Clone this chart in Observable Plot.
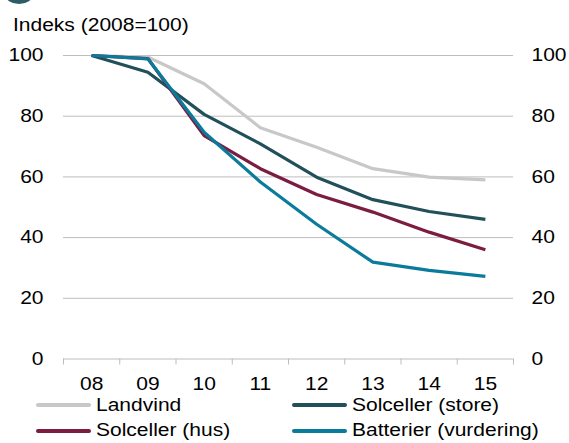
<!DOCTYPE html>
<html>
<head>
<meta charset="utf-8">
<script src="https://cdn.jsdelivr.net/npm/d3@7"></script>
<script src="https://cdn.jsdelivr.net/npm/@observablehq/plot@0.6"></script>
<style>
  body { margin: 0; background: #fff; }
  #wrap { position: relative; width: 569px; height: 443px; overflow: hidden; font-family: "Liberation Sans", Arial, sans-serif; color: #000; }
  #chart { position: absolute; left: 0; top: 0; }
  .title { position: absolute; left: 13px; top: 15px; font-size: 17.5px; line-height: 20px; white-space: nowrap; transform: scaleX(1.2); transform-origin: 0 0; }
  .leg { position: absolute; font-size: 17.5px; line-height: 20px; white-space: nowrap; transform: scaleX(1.2); transform-origin: 0 0; }
  .sw { position: absolute; height: 4px; border-radius: 2px; }
  .logo { position: absolute; left: 5px; top: -15px; width: 28px; height: 19px; border-radius: 50%; background: #2d5c66; }
</style>
</head>
<body>
<div id="wrap">
  <div class="logo"></div>
  <div id="chart"></div>
  <div class="title">Indeks (2008=100)</div>
</div>
<script>
const years = [2008, 2009, 2010, 2011, 2012, 2013, 2014, 2015];
const yearLabels = ["08", "09", "10", "11", "12", "13", "14", "15"];
const seriesNames = ["Landvind", "Solceller (store)", "Solceller (hus)", "Batterier (vurdering)"];
const seriesColors = ["#c8c8c8", "#22505a", "#7b1c41", "#0a7b9b"];
const landvind = [100, 99.5, 90.7, 76.2, 69.8, 62.7, 59.9, 59.0];
const solcellerStore = [100, 94.5, 80.6, 70.9, 59.9, 52.5, 48.6, 46.0];
const solcellerHus = [100, 99, 73.6, 62.7, 54.2, 48.4, 41.8, 36.0];
const batterier = [100, 98.9, 74.7, 58.3, 44.4, 31.9, 29.2, 27.2];
const yTicks = [0, 20, 40, 60, 80, 100];

const seriesValues = [landvind, solcellerStore, solcellerHus, batterier];
const rows = [];
seriesNames.forEach((name, i) => {
  years.forEach((yr, j) => rows.push({series: name, year: yr, value: seriesValues[i][j]}));
});
const boundaries = years.map(y => y - 0.5).concat([years[years.length - 1] + 0.5]);

const plot = Plot.plot({
  width: 569,
  height: 395,
  marginTop: 55,
  marginBottom: 36.5,
  marginLeft: 63,
  marginRight: 56,
  style: {fontFamily: "'Liberation Sans', Arial, sans-serif", fontSize: "17.5px", color: "#000", background: "transparent", overflow: "visible"},
  x: {domain: [boundaries[0], boundaries[boundaries.length - 1]], label: null},
  y: {domain: [0, 100], label: null},
  color: {domain: seriesNames, range: seriesColors},
  marks: [
    Plot.ruleY(yTicks.filter(d => d > 0), {stroke: "#bdbdbd", strokeWidth: 1}),
    Plot.ruleY([0], {stroke: "#bdbdbd", strokeWidth: 1}),
    Plot.axisX({ticks: boundaries, tickSize: 6, tickFormat: () => "", stroke: "#bdbdbd", tickPadding: 0, label: null}),
    Plot.axisX({ticks: years, tickSize: 0, tickPadding: 19, tickFormat: d => yearLabels[years.indexOf(d)], label: null, fontSize: 17.5}),
    Plot.axisY({anchor: "left", ticks: yTicks, tickSize: 0, tickPadding: 20, label: null, fontSize: 17.5}),
    Plot.axisY({anchor: "right", ticks: yTicks, tickSize: 0, tickPadding: 18, label: null, fontSize: 17.5}),
    Plot.line(rows, {x: "year", y: "value", z: "series", stroke: "series", strokeWidth: 3.2, strokeLinejoin: "round", strokeLinecap: "butt"})
  ]
});
document.getElementById("chart").appendChild(plot);

// widen the tick labels horizontally to match the reference's wide type
const SX = 1.2;
plot.querySelectorAll("text").forEach(el => {
  const xAttr = el.getAttribute("x");
  if (xAttr !== null && xAttr !== "") el.setAttribute("x", String(parseFloat(xAttr) / SX));
  const t = el.getAttribute("transform") || "";
  el.setAttribute("transform", (t + " scale(" + SX + ",1)").trim());
});

// Legend (HTML, below the svg)
const wrap = document.getElementById("wrap");
const legPos = [
  {sx: 36, sw: 55, tx: 96, y: 405},
  {sx: 292, sw: 55, tx: 352, y: 405},
  {sx: 36, sw: 55, tx: 96, y: 430.5},
  {sx: 292, sw: 55, tx: 352, y: 430.5}
];
seriesNames.forEach((name, i) => {
  const p = legPos[i];
  const sw = document.createElement("div");
  sw.className = "sw";
  sw.style.left = p.sx + "px";
  sw.style.width = p.sw + "px";
  sw.style.top = (p.y - 2) + "px";
  sw.style.background = seriesColors[i];
  wrap.appendChild(sw);
  const t = document.createElement("div");
  t.className = "leg";
  t.style.left = p.tx + "px";
  t.style.top = (p.y - 10.5) + "px";
  t.textContent = name;
  wrap.appendChild(t);
});
</script>
</body>
</html>
